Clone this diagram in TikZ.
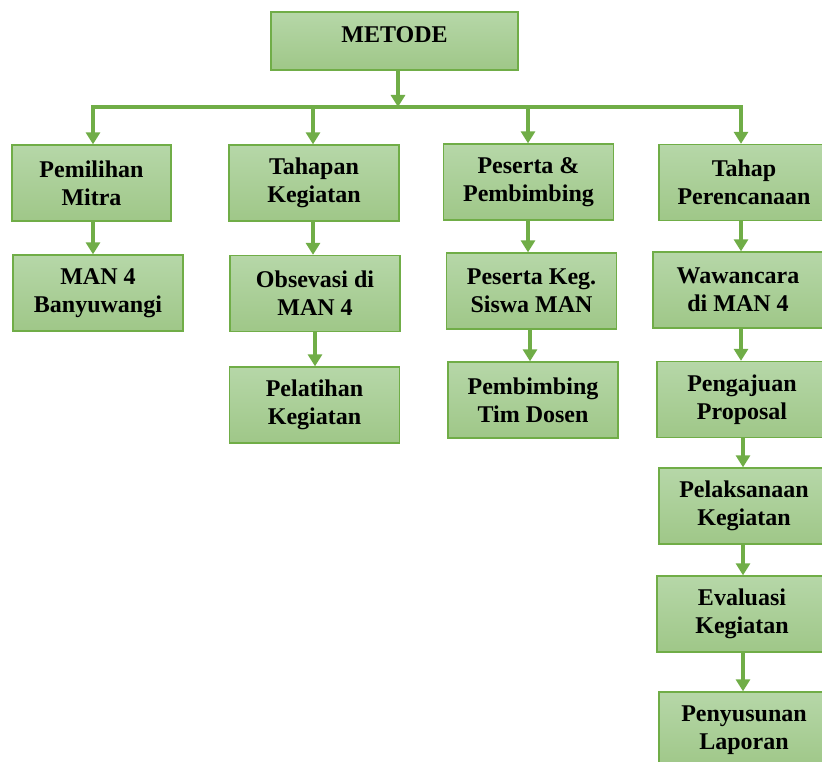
\documentclass[tikz,border=0pt]{standalone}
\usepackage{fontspec}
\setmainfont{Liberation Serif}
\usetikzlibrary{arrows.meta}
\definecolor{garis}{HTML}{70AD47}
\definecolor{hijauatas}{HTML}{B6D7A8}
\definecolor{hijaubawah}{HTML}{9FC788}
\tikzset{
	kotak/.style={draw=garis, line width=1.3pt, top color=hijauatas, bottom color=hijaubawah,
		minimum width=170pt, minimum height=76pt, inner sep=0pt, align=center,
		font=\fontsize{24}{28}\selectfont\bfseries},
	panah/.style={draw=garis, line width=3.5pt, -{Triangle[width=14pt,length=12pt]}},
}
\begin{document}
\begin{tikzpicture}[x=1pt, y=-1pt]
		\clip (0,0) rectangle (822,762);
		\coordinate (cabang) at (398, 107);
		\coordinate (k1) at (93, 107);
		\coordinate (k2) at (313, 107);
		\coordinate (k3) at (528, 107);
		\coordinate (k4) at (741, 107);
		\node[kotak, minimum width=247pt, minimum height=58pt, text depth=12pt] (metode) at (394.5, 41) {METODE};
		\node[kotak, minimum width=159pt] (pemilihan) at (91.5, 183) {Pemilihan\\Mitra};
		\node[kotak] (tahapan) at (314, 183) {Tahapan\\Kegiatan};
		\node[kotak] (peserta) at (528.5, 182) {Peserta \&\\Pembimbing};
		\node[kotak] (perencanaan) at (744, 182.5) {Tahap\\Perencanaan};
		\node[kotak] (man) at (98, 293) {MAN 4\\Banyuwangi};
		\node[kotak] (observasi) at (315, 293.5) {Obsevasi di\\MAN 4};
		\node[kotak] (siswa) at (531.5, 291) {Peserta Keg.\\Siswa MAN};
		\node[kotak] (wawancara) at (738, 290) {Wawancara\\di MAN 4};
		\node[kotak] (pelatihan) at (314.5, 405) {Pelatihan\\Kegiatan};
		\node[kotak] (dosen) at (533, 400) {Pembimbing\\Tim Dosen};
		\node[kotak] (proposal) at (742, 399.5) {Pengajuan\\Proposal};
		\node[kotak] (pelaksanaan) at (744, 506) {Pelaksanaan\\Kegiatan};
		\node[kotak] (evaluasi) at (742, 614) {Evaluasi\\Kegiatan};
		\node[kotak] (laporan) at (744, 730) {Penyusunan\\Laporan};
		% cabang dari METODE
		\draw[panah] (metode.south -| cabang) -- (cabang);
		\draw[panah] (cabang) -| (pemilihan.north -| k1);
		\draw[panah] (cabang) -| (perencanaan.north -| k4);
		\draw[panah] (k2) -- (tahapan.north -| k2);
		\draw[panah] (k3) -- (peserta.north -| k3);
		% kolom
		\draw[panah] (pemilihan.south -| k1) -- (man.north -| k1);
		\draw[panah] (tahapan.south -| k2) -- (observasi.north -| k2);
		\draw[panah] ([xshift=2pt]observasi.south -| k2) -- ([xshift=2pt]pelatihan.north -| k2);
		\draw[panah] (peserta.south -| k3) -- (siswa.north -| k3);
		\draw[panah] ([xshift=2pt]siswa.south -| k3) -- ([xshift=2pt]dosen.north -| k3);
		\draw[panah] (perencanaan.south -| k4) -- (wawancara.north -| k4);
		\draw[panah] (wawancara.south -| k4) -- (proposal.north -| k4);
		\draw[panah] ([xshift=2pt]proposal.south -| k4) -- ([xshift=2pt]pelaksanaan.north -| k4);
		\draw[panah] ([xshift=2pt]pelaksanaan.south -| k4) -- ([xshift=2pt]evaluasi.north -| k4);
		\draw[panah] ([xshift=2pt]evaluasi.south -| k4) -- ([xshift=2pt]laporan.north -| k4);
	\end{tikzpicture}
\end{document}
